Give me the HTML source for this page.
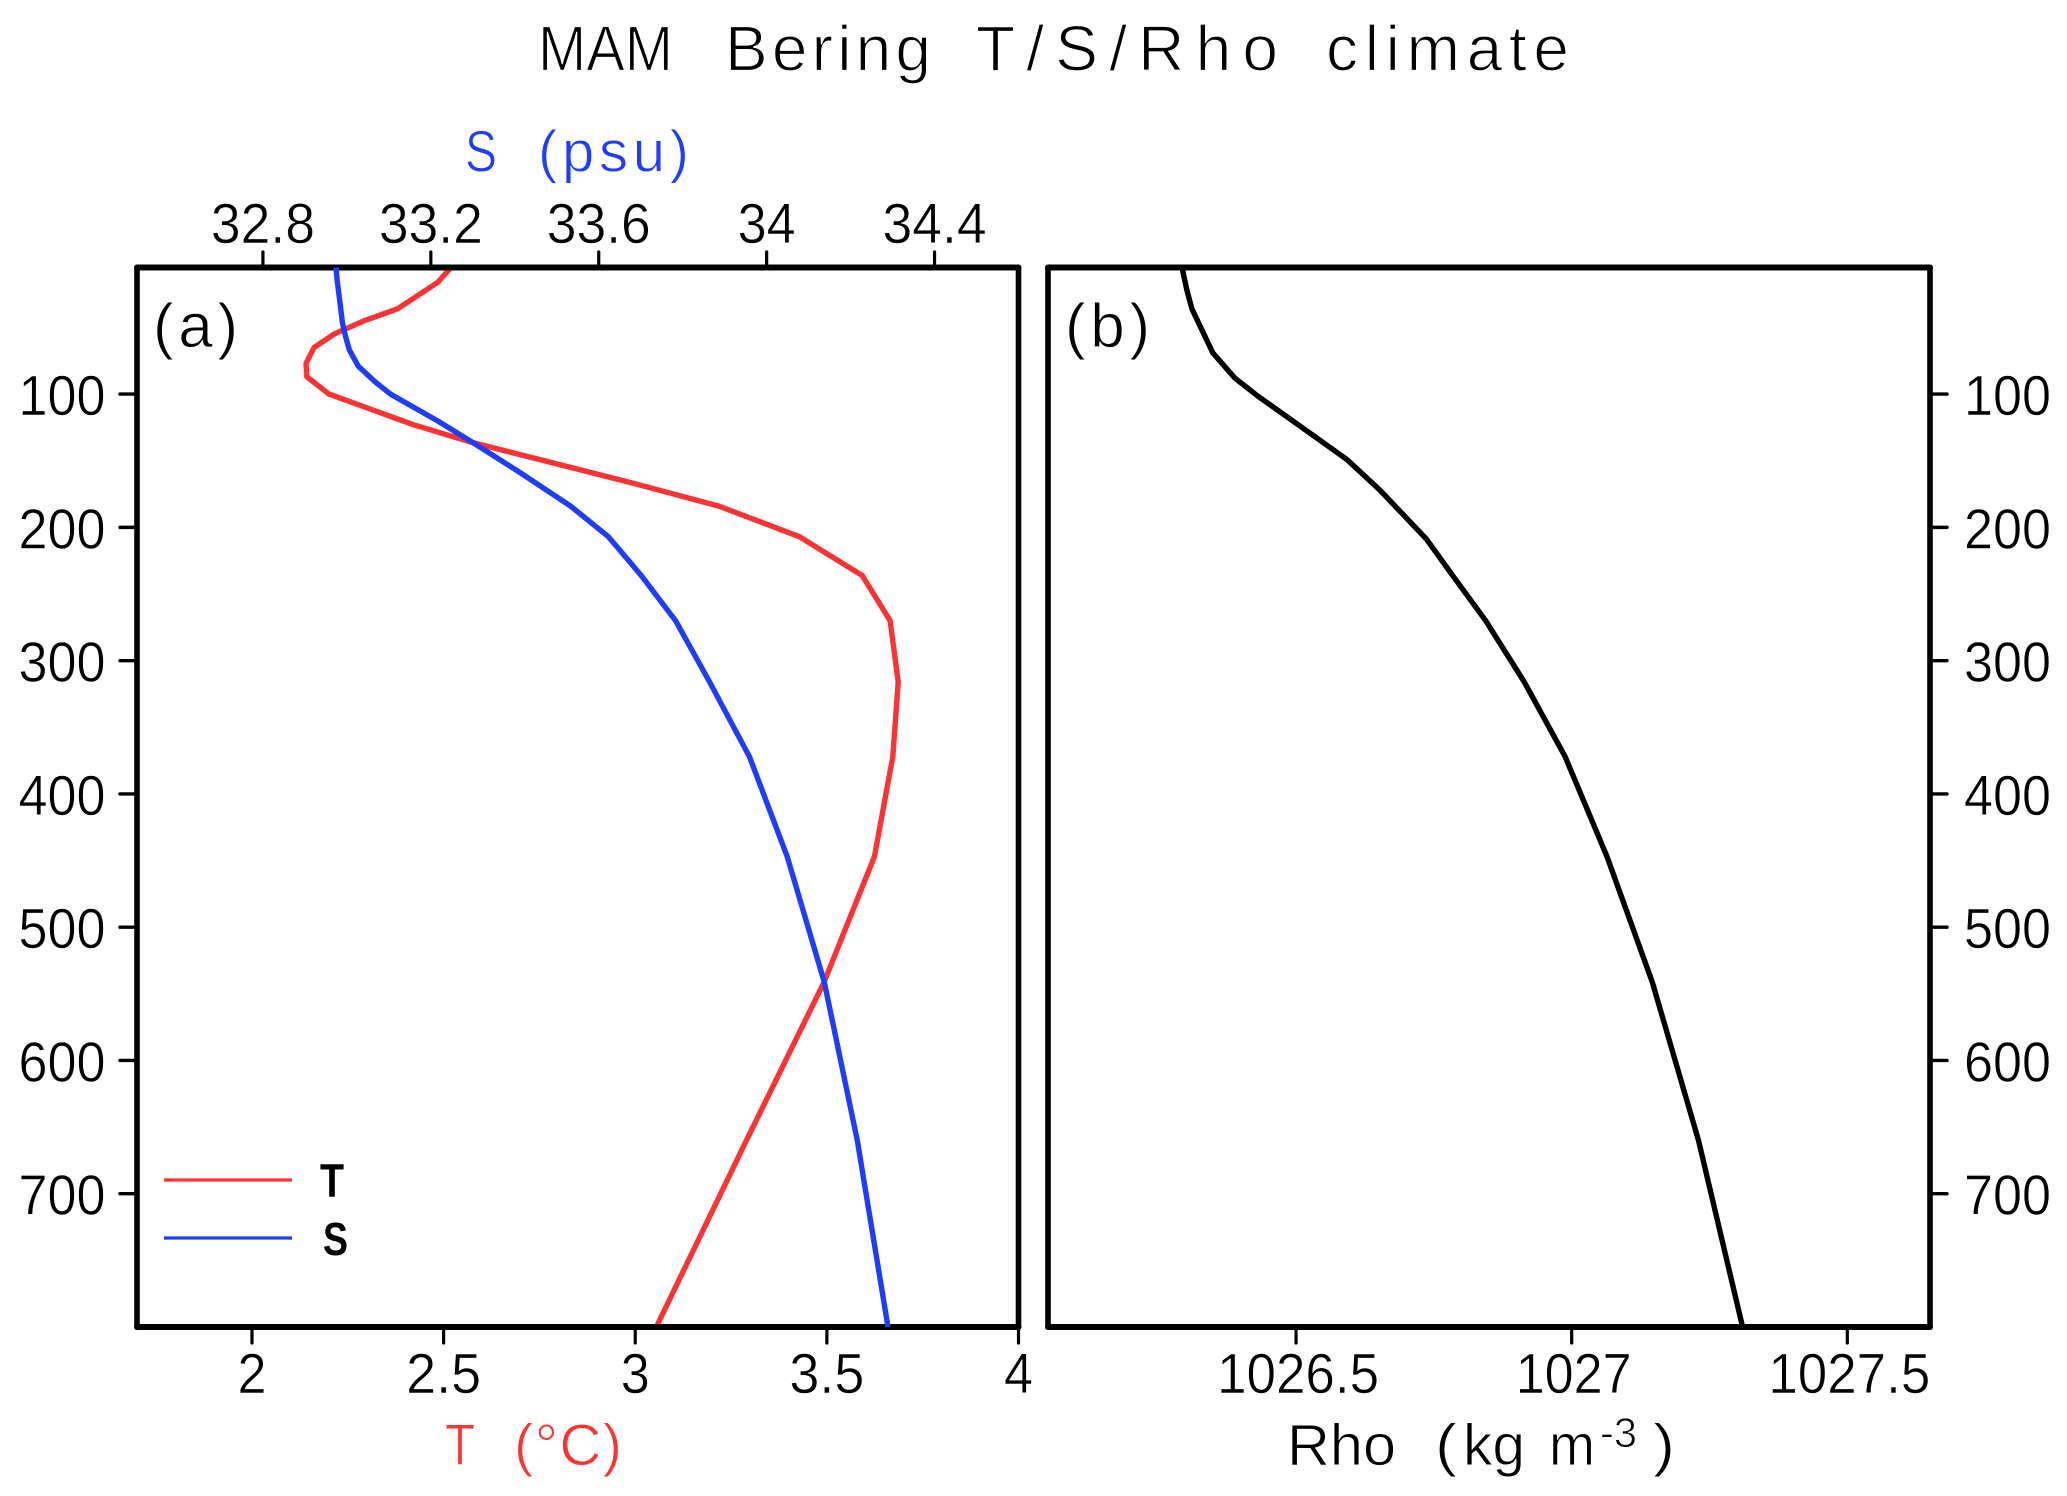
<!DOCTYPE html>
<html>
<head>
<meta charset="utf-8">
<title>MAM Bering T/S/Rho climate</title>
<style>
html,body{margin:0;padding:0;background:#fff;}
svg{display:block;}
text{font-family:"Liberation Sans",sans-serif;fill:#000;white-space:pre;stroke:#fff;stroke-width:0.6px;}
.title-text{stroke-width:1.3px;}
.axis-text{stroke-width:0.9px;}
.legend-text{stroke:none;}
</style>
</head>
<body>
<svg id="chart" xmlns="http://www.w3.org/2000/svg" width="2067" height="1496" viewBox="0 0 2067 1496">
  <rect x="0" y="0" width="2067" height="1496" fill="#fff"/>
  <g font-size="64">
    <text class="title-text" x="538" y="70.5" textLength="135" lengthAdjust="spacingAndGlyphs">MAM</text>
    <text class="title-text" x="725" y="70.5" textLength="206" lengthAdjust="spacing">Bering</text>
    <text class="title-text" x="976" y="70.5" textLength="302" lengthAdjust="spacing">T/S/Rho</text>
    <text class="title-text" x="1326" y="70.5" textLength="243" lengthAdjust="spacing">climate</text>
  </g>
  <g font-size="58">
    <text class="axis-text" x="465" y="171.5" textLength="32" lengthAdjust="spacingAndGlyphs" style="fill:#1f3dff">S</text>
    <text class="axis-text" x="538" y="171.5" textLength="151" lengthAdjust="spacing" style="fill:#1f3dff">(psu)</text>
  </g>
  <g font-size="58">
    <text class="axis-text" x="445" y="1465" textLength="30" lengthAdjust="spacingAndGlyphs" style="fill:#ff3333">T</text>
    <text class="axis-text" x="514" y="1465" textLength="108" lengthAdjust="spacing" style="fill:#ff3333">(°C)</text>
  </g>
  <g font-size="58">
    <text class="axis-text" x="1287" y="1465" textLength="109" lengthAdjust="spacingAndGlyphs">Rho</text>
    <text class="axis-text" x="1435" y="1465" textLength="22" lengthAdjust="spacingAndGlyphs">(</text>
    <text class="axis-text" x="1463" y="1465" textLength="62" lengthAdjust="spacingAndGlyphs">kg</text>
    <text class="axis-text" x="1549" y="1465" textLength="46" lengthAdjust="spacingAndGlyphs">m</text>
    <text class="axis-text" x="1600" y="1447" font-size="42" textLength="37" lengthAdjust="spacingAndGlyphs">-3</text>
    <text class="axis-text" x="1653" y="1465" textLength="22" lengthAdjust="spacingAndGlyphs">)</text>
  </g>
  <text class="axis-text" x="153" y="347" font-size="62" textLength="85" lengthAdjust="spacing">(a)</text>
  <text class="axis-text" x="1065" y="347" font-size="62" textLength="85" lengthAdjust="spacing">(b)</text>
  <g id="plot"></g>
  <g>
    <line x1="164" y1="1180" x2="292" y2="1180" stroke="#ff3333" stroke-width="3.2"/>
    <text class="legend-text" x="320" y="1197" font-size="47" font-weight="bold" textLength="24" lengthAdjust="spacingAndGlyphs">T</text>
    <line x1="164" y1="1238" x2="292" y2="1238" stroke="#1f3dff" stroke-width="3.2"/>
    <text class="legend-text" x="323" y="1255" font-size="46" font-weight="bold" textLength="25" lengthAdjust="spacingAndGlyphs">S</text>
  </g>
</svg>
<script>
// Chart data
const depthTicks = [100, 200, 300, 400, 500, 600, 700];
const temperatureTicks = [2, 2.5, 3, 3.5, 4];
const salinityTicks = [32.8, 33.2, 33.6, 34, 34.4];
const densityTicks = [1026.5, 1027, 1027.5];

const temperatureDepths = [5, 16, 36, 45, 55, 65, 77, 87, 100, 123, 136, 167, 184, 207, 236, 270, 316, 372, 447, 541, 660, 800];
const temperatureValues = [2.519, 2.485, 2.38, 2.292, 2.214, 2.162, 2.141, 2.143, 2.201, 2.422, 2.571, 2.996, 3.218, 3.428, 3.592, 3.665, 3.686, 3.672, 3.624, 3.493, 3.29, 3.055];

const salinityDepths = [5, 15, 25, 35, 46, 57, 67, 79, 91, 100, 120, 136, 159, 184, 207, 236, 270, 316, 372, 447, 541, 660, 800];
const salinityValues = [32.974, 32.977, 32.981, 32.985, 32.989, 32.997, 33.006, 33.027, 33.068, 33.104, 33.216, 33.298, 33.413, 33.533, 33.623, 33.701, 33.783, 33.864, 33.959, 34.049, 34.137, 34.216, 34.289];

const densityDepths = [5, 22, 36, 49, 69, 88, 101, 131, 149, 172, 209, 236, 270, 316, 372, 447, 541, 660, 800];
const densityValues = [1026.293, 1026.302, 1026.311, 1026.326, 1026.349, 1026.389, 1026.429, 1026.531, 1026.592, 1026.652, 1026.737, 1026.784, 1026.844, 1026.914, 1026.988, 1027.064, 1027.146, 1027.23, 1027.31];

// Axis functions
const depthDomain = [5, 800];
const plotTop = 267.5;
const plotBottom = 1327;
const panelALeft = 137;
const panelARight = 1018.5;
const panelBLeft = 1048;
const panelBRight = 1930;

function yScale(d) {
  return plotTop + (d - depthDomain[0]) / (depthDomain[1] - depthDomain[0]) * (plotBottom - plotTop);
}
function xTemperature(v) {
  return panelALeft + (v - 1.7) / (4 - 1.7) * (panelARight - panelALeft);
}
function xSalinity(v) {
  return panelALeft + (v - 32.5) / (34.6 - 32.5) * (panelARight - panelALeft);
}
function xDensity(v) {
  return panelBLeft + (v - 1026.05) / (1027.65 - 1026.05) * (panelBRight - panelBLeft);
}

const SVG_NS = 'http://www.w3.org/2000/svg';
const plot = document.getElementById('plot');

function drawLine(x1, y1, x2, y2, width, name) {
  const el = document.createElementNS(SVG_NS, 'line');
  el.setAttribute('x1', x1);
  el.setAttribute('y1', y1);
  el.setAttribute('x2', x2);
  el.setAttribute('y2', y2);
  el.setAttribute('stroke', '#000');
  el.setAttribute('stroke-width', width);
  el.setAttribute('stroke-linecap', 'round');
  
  
  plot.appendChild(el);
}

function labelWidth(s) {
  let w = 0;
  for (const c of s) w += (c === '.') ? 17 : 29;
  return w;
}

function drawLabel(s, x, baseline, name) {
  const el = document.createElementNS(SVG_NS, 'text');
  const w = labelWidth(s);
  el.setAttribute('x', x(w));
  el.setAttribute('y', baseline);
  el.setAttribute('font-size', '57');
  el.setAttribute('textLength', w);
  el.setAttribute('lengthAdjust', 'spacingAndGlyphs');
  
  
  el.textContent = s;
  plot.appendChild(el);
}

function drawSeries(depths, values, xFn, color, name) {
  const el = document.createElementNS(SVG_NS, 'polyline');
  const pts = depths.map(function (d, i) {
    return xFn(values[i]).toFixed(1) + ',' + yScale(d).toFixed(1);
  }).join(' ');
  el.setAttribute('points', pts);
  el.setAttribute('fill', 'none');
  el.setAttribute('stroke', color);
  el.setAttribute('stroke-width', '5.4');
  el.setAttribute('stroke-linejoin', 'round');
  
  
  plot.appendChild(el);
}

function drawFrame(left, right, prefix) {
  drawLine(left, plotTop, right, plotTop, 6, prefix + '-frame-top');
  drawLine(left, plotBottom, right, plotBottom, 6, prefix + '-frame-bottom');
  drawLine(left, plotTop, left, plotBottom, 5.6, prefix + '-frame-left');
  drawLine(right, plotTop, right, plotBottom, 5.6, prefix + '-frame-right');
}

// Series under the frame
drawSeries(temperatureDepths, temperatureValues, xTemperature, '#ff3333', 'temperature-line');

drawFrame(panelALeft, panelARight, 'panel-a');
drawFrame(panelBLeft, panelBRight, 'panel-b');

// Series over the frame
drawSeries(salinityDepths, salinityValues, xSalinity, '#1f3dff', 'salinity-line');
drawSeries(densityDepths, densityValues, xDensity, '#000', 'density-line');

// Ticks and labels
depthTicks.forEach(function (d) {
  const y = yScale(d);
  drawLine(120, y, panelALeft, y, 3.4, 'left-depth-tick-' + d);
  drawLabel(String(d), function (w) { return 105.5 - w; }, y + 21, 'left-depth-label-' + d);
  drawLine(panelBRight, y, 1947, y, 3.4, 'right-depth-tick-' + d);
  drawLabel(String(d), function () { return 1964; }, y + 21, 'right-depth-label-' + d);
});

temperatureTicks.forEach(function (v) {
  const x = xTemperature(v);
  drawLine(x, plotBottom, x, 1343, 3.2, 'temperature-tick-' + v);
  drawLabel(String(v), function (w) { return x - w / 2; }, 1393, 'temperature-tick-label-' + v);
});

salinityTicks.forEach(function (v) {
  const x = xSalinity(v);
  drawLine(x, plotTop, x, 252, 3.2, 'salinity-tick-' + v);
  drawLabel(String(v), function (w) { return x - w / 2; }, 243, 'salinity-tick-label-' + v);
});

densityTicks.forEach(function (v) {
  const x = xDensity(v);
  drawLine(x, plotBottom, x, 1343, 3.2, 'density-tick-' + v);
  drawLabel(String(v), function (w) { return x + 2 - w / 2; }, 1393, 'density-tick-label-' + v);
});
</script>
</body>
</html>
